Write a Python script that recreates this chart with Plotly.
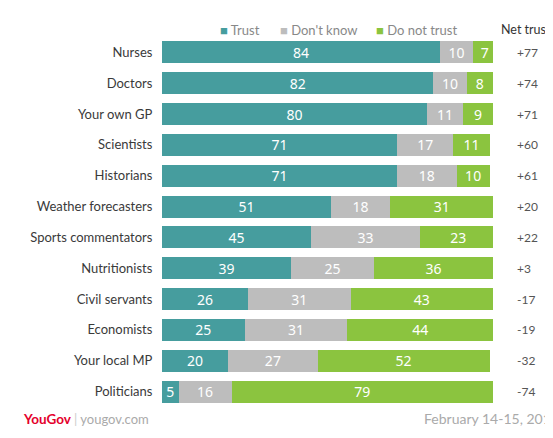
import plotly.graph_objects as go

categories = ["Nurses", "Doctors", "Your own GP", "Scientists", "Historians",
              "Weather forecasters", "Sports commentators", "Nutritionists",
              "Civil servants", "Economists", "Your local MP", "Politicians"]
trust = [84, 82, 80, 71, 71, 51, 45, 39, 26, 25, 20, 5]
dont_know = [10, 10, 11, 17, 18, 18, 33, 25, 31, 31, 27, 16]
do_not_trust = [7, 8, 9, 11, 10, 31, 23, 36, 43, 44, 52, 79]
net_trust = [77, 74, 71, 60, 61, 20, 22, 3, -17, -19, -32, -74]

series_names = ["Trust", "Don't know", "Do not trust"]
colors = ["#469d9e", "#bdbdbd", "#8bc43f"]

OFF = 8  # page body margin
W, H = 553 - OFF, 438 - OFF
ML, MR, MT, MB = 162 - OFF, 60, 36.5 - OFF, 30.5
PW, PH = W - ML - MR, H - MT - MB


def px_x(p):
    return (p - OFF - ML) / PW


def px_y(p):
    return 1 - (p - OFF - MT) / PH


fig = go.Figure()
for name, vals, col in zip(series_names, [trust, dont_know, do_not_trust], colors):
    fig.add_trace(go.Bar(
        y=categories, x=vals, name=name, orientation="h",
        marker=dict(color=col, line=dict(width=0)),
        text=[str(v) for v in vals], textposition="inside", textangle=0,
        insidetextanchor="middle", constraintext="none",
        textfont=dict(color="white", size=14, family="Noto Sans"),
        showlegend=False,
    ))

annotations = []
for cat, n in zip(categories, net_trust):
    annotations.append(dict(
        x=px_x(515), xref="paper", y=cat, yref="y", xanchor="left",
        text=("+%d" % n) if n > 0 else str(n), showarrow=False,
        font=dict(size=12, color="#555555", family="Lato"),
    ))
annotations.append(dict(
    x=px_x(499), xref="paper", y=px_y(19), yref="paper", xanchor="left",
    text="Net trust", showarrow=False,
    font=dict(size=12.5, color="#333333", family="Lato"),
))
for name, col, xp in zip(series_names, colors, [218, 278, 374]):
    annotations.append(dict(
        x=px_x(xp), xref="paper", y=px_y(19), yref="paper", xanchor="left",
        text="<span style='color:%s'>■</span> %s" % (col, name), showarrow=False,
        font=dict(size=13, color="#888888", family="Lato"),
    ))
annotations.append(dict(
    x=px_x(21), xref="paper", y=px_y(430), yref="paper", xanchor="left",
    text="<b>YouGov</b>", showarrow=False,
    font=dict(size=13.5, color="#e4002b", family="Lato"),
))
annotations.append(dict(
    x=px_x(72), xref="paper", y=px_y(430), yref="paper", xanchor="left",
    text="<span style='color:#cccccc'>|</span> yougov.com", showarrow=False,
    font=dict(size=13, color="#aaaaaa", family="Lato"),
))
annotations.append(dict(
    x=px_x(422), xref="paper", y=px_y(430), yref="paper", xanchor="left",
    text="February 14-15, 2019", showarrow=False,
    font=dict(size=14, color="#aaaaaa", family="Lato"),
))

fig.update_layout(
    width=W, height=H, barmode="stack", bargap=0.29,
    margin=dict(l=ML, r=MR, t=MT, b=MB, autoexpand=False),
    plot_bgcolor="white", paper_bgcolor="white",
    xaxis=dict(range=[0, 100], visible=False, fixedrange=True),
    yaxis=dict(autorange="reversed", showgrid=False, zeroline=False, showline=False,
               ticks="outside", ticklen=6, tickcolor="rgba(0,0,0,0)",
               tickfont=dict(size=13, color="#3a3a3a", family="Lato")),
    annotations=annotations,
)

fig.write_html("out.html")
